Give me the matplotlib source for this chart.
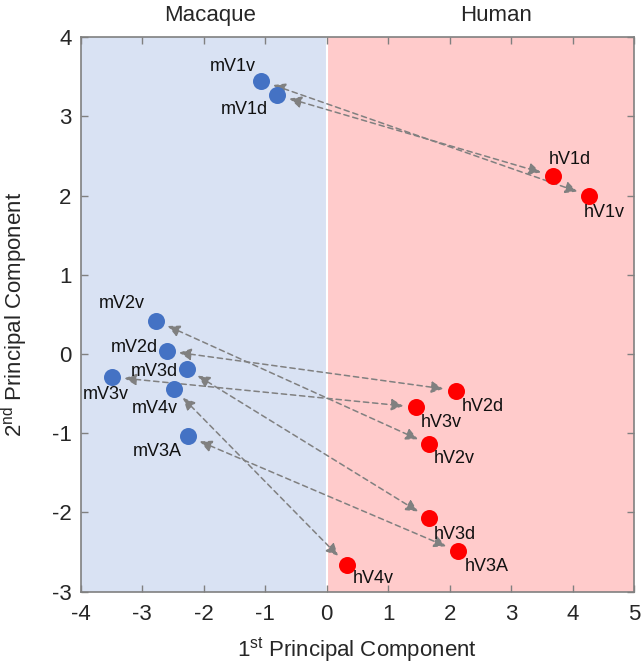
import matplotlib
matplotlib.use("Agg")
import matplotlib.pyplot as plt
from matplotlib.patches import FancyArrowPatch

plt.rcParams['font.family'] = ['Liberation Sans', 'DejaVu Sans']
plt.rcParams['mathtext.fontset'] = 'custom'
plt.rcParams['mathtext.rm'] = 'Liberation Sans'
plt.rcParams['mathtext.it'] = 'Liberation Sans:italic'
plt.rcParams['axes.unicode_minus'] = False

# Macaque areas
mac_labels = ['mV1v', 'mV1d', 'mV2v', 'mV2d', 'mV3d', 'mV3v', 'mV4v', 'mV3A']
mac_x = [-1.06, -0.80, -2.77, -2.60, -2.27, -3.49, -2.48, -2.25]
mac_y = [3.45, 3.27, 0.42, 0.04, -0.19, -0.29, -0.44, -1.04]

# Human areas (paired in same order)
hum_labels = ['hV1v', 'hV1d', 'hV2v', 'hV2d', 'hV3d', 'hV3v', 'hV4v', 'hV3A']
hum_x = [4.27, 3.68, 1.67, 2.10, 1.66, 1.45, 0.33, 2.13]
hum_y = [2.00, 2.25, -1.14, -0.46, -2.07, -0.67, -2.66, -2.49]

# label offsets (pixels)
mac_off = [(-29, 14), (-33, -14), (-35, 17), (-32, 3), (-33, -2), (-6, -17), (-19, -20), (-31, -15)]
hum_off = [(15, -17), (17, 16), (25, -14), (27, -16), (26, -16), (25, -15), (26, -14), (29, -15)]

fig = plt.figure(figsize=(6.44, 6.66), dpi=100)
ax = fig.add_axes([0.1253, 0.1116, 0.8592, 0.8324])
ax.set_xlim(-4, 5)
ax.set_ylim(-3, 4)

ax.axvspan(-4, 0, color='#D9E2F3', zorder=0, lw=0)
ax.axvspan(0, 5, color='#FFCBCB', zorder=0, lw=0)
ax.axvline(0, color='white', lw=1.5, zorder=1)

for mx, my, hx, hy in zip(mac_x, mac_y, hum_x, hum_y):
    arr = FancyArrowPatch((mx, my), (hx, hy),
                          arrowstyle='<|-|>,head_length=0.45,head_width=0.22',
                          mutation_scale=16, color='#808080', lw=1.1,
                          linestyle=(0, (3.5, 2.5)), shrinkA=9, shrinkB=9, zorder=2)
    ax.add_patch(arr)

ax.scatter(mac_x, mac_y, s=150, color='#4472C4', zorder=3, linewidths=0)
ax.scatter(hum_x, hum_y, s=150, color='#FF0000', zorder=3, linewidths=0)

for lab, x, y, off in zip(mac_labels, mac_x, mac_y, mac_off):
    ax.annotate(lab, (x, y), xytext=off, textcoords='offset pixels',
                ha='center', va='center', fontsize=13, color='#111111', zorder=4)
for lab, x, y, off in zip(hum_labels, hum_x, hum_y, hum_off):
    ax.annotate(lab, (x, y), xytext=off, textcoords='offset pixels',
                ha='center', va='center', fontsize=13, color='#111111', zorder=4)

ax.set_xticks(range(-4, 6))
ax.set_yticks(range(-3, 5))
ax.tick_params(direction='in', top=True, right=True, length=5, width=1,
               color='#808080', labelsize=16, labelcolor='#262626')
ax.tick_params(axis='x', pad=9)
ax.tick_params(axis='y', pad=6.5)
for sp in ax.spines.values():
    sp.set_color('#808080')
    sp.set_linewidth(1.2)

ax.set_xlabel(r'1$^{\mathrm{st}}$ Principal Component', fontsize=16, color='#262626')
ax.set_ylabel(r'2$^{\mathrm{nd}}$ Principal Component', fontsize=16, color='#262626')
ax.xaxis.label.set_va('center')
ax.yaxis.label.set_va('center')
ax.xaxis.set_label_coords(0.5, -0.104)
ax.yaxis.set_label_coords(-0.119, 0.5)

ax.text(-1.9, 4.28, 'Macaque', ha='center', va='center', fontsize=16, color='#262626', clip_on=False)
ax.text(2.75, 4.28, 'Human', ha='center', va='center', fontsize=16, color='#262626', clip_on=False)

fig.savefig('out.png', dpi=100)
